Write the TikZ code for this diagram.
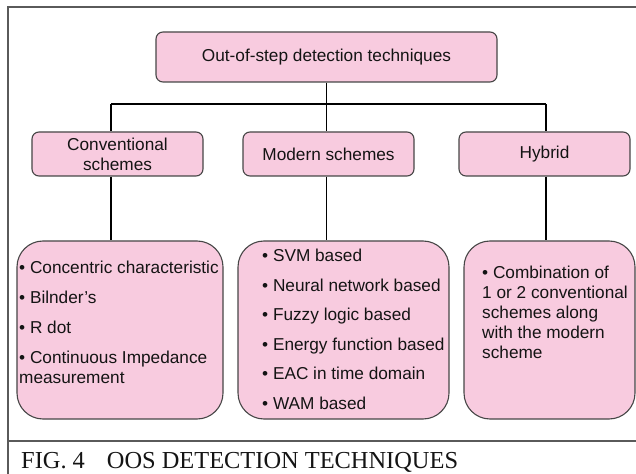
\documentclass[tikz,border=0pt]{standalone}
\usepackage{fontspec}
\setmainfont{Liberation Sans}
\newfontfamily\capfont{Liberation Serif}
\usetikzlibrary{positioning}
\definecolor{boxpink}{RGB}{248,203,223}
\definecolor{boxedge}{RGB}{70,70,70}
\definecolor{framegray}{RGB}{90,90,90}

\begin{document}
\begin{tikzpicture}[x=1bp, y=-1bp,
    every node/.style={font=\fontsize{17.3}{20}\selectfont, text=black!92},
    headbox/.style={draw=boxedge, fill=boxpink, rounded corners=7bp, line width=1.1bp, inner sep=0},
    listbox/.style={draw=boxedge, fill=boxpink, rounded corners=26bp, line width=1.1bp, inner sep=0},
    listtext/.style={anchor=north west, inner sep=0, align=left},
    link/.style={line width=1.5bp, black}]
  \useasboundingbox (0,0) rectangle (636,474);

  % frame and caption rule
  \draw[framegray, line width=1.3bp] (8,474) -- (8,7) -- (640,7);
  \draw[framegray, line width=1.3bp] (8,441) -- (640,441);

  \node[headbox, minimum width=341bp, minimum height=50bp] (top) at (326.5,57) {Out-of-step detection techniques};

  \node[headbox, minimum width=171bp, minimum height=44bp, align=center] (conv) at (117.5,154) {Conventional\\schemes};
  \node[headbox, minimum width=171bp, minimum height=44bp] (modern) at (328.5,154) {Modern schemes};
  \node[headbox, minimum width=171bp, minimum height=44bp] (hybrid) at (544.5,154) {Hybrid};

  \node[listbox, minimum width=206bp, minimum height=178bp] (conv3) at (120,330) {};
  \node[listbox, minimum width=211bp, minimum height=178bp] (modern3) at (343.5,330) {};
  \node[listbox, minimum width=171bp, minimum height=178bp] (hybrid3) at (549.5,330) {};

  \node[listtext] (conv3txt) at (19,261) {• Concentric characteristic\\[10bp]• Bilnder’s\\[10bp]• R dot\\[10bp]• Continuous Impedance\\measurement};
  \node[listtext] (modern3txt) at (262,249) {• SVM based\\[9.6bp]• Neural network based\\[9.6bp]• Fuzzy logic based\\[9.6bp]• Energy function based\\[9.6bp]• EAC in time domain\\[9.6bp]• WAM based};
  \node[listtext] (hybrid3txt) at (482,266) {• Combination of\\1 or 2 conventional\\schemes along\\with the modern\\scheme};

  % tree connectors
  \coordinate (busL) at (111,104);
  \coordinate (busR) at (546,104);
  \draw[link] (top.south) -- (top.south |- busL);
  \draw[link] (busL) -- (busR);
  \draw[link] (busL) -- (busL |- conv.north);
  \draw[link] (top.south |- busL) -- (top.south |- modern.north);
  \draw[link] (busR) -- (busR |- hybrid.north);
  \draw[link] (busL |- conv.south) -- (busL |- conv3.north);
  \draw[link] (top.south |- modern.south) -- (top.south |- modern3.north);
  \draw[link] (busR |- hybrid.south) -- (busR |- hybrid3.north);

  \node[anchor=base west, inner sep=0, font=\capfont\fontsize{24.5}{28}\selectfont] (caption) at (21,468) {FIG. 4\hspace{22bp}OOS DETECTION TECHNIQUES};
\end{tikzpicture}
\end{document}
